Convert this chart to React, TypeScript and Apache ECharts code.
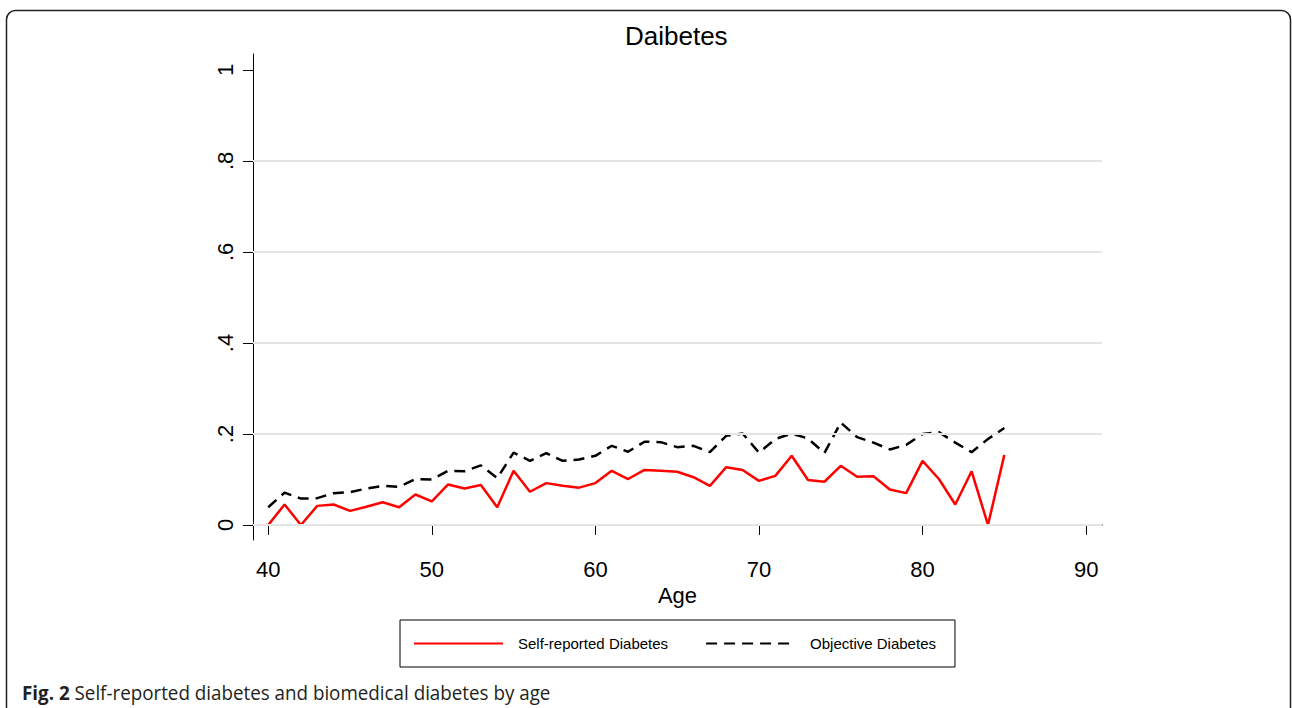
import React, { useEffect, useRef } from "react";
import * as echarts from "echarts";

const ages: number[] = [
  40, 41, 42, 43, 44, 45, 46, 47, 48, 49, 50, 51, 52, 53, 54, 55, 56, 57, 58, 59, 60, 61, 62,
  63, 64, 65, 66, 67, 68, 69, 70, 71, 72, 73, 74, 75, 76, 77, 78, 79, 80, 81, 82, 83, 84, 85,
];

const selfReported: number[] = [
  0, 0.045, 0, 0.042, 0.045, 0.031, 0.04, 0.05, 0.039, 0.067, 0.052,
  0.089, 0.08, 0.088, 0.039, 0.119, 0.073, 0.092, 0.086, 0.082, 0.092, 0.119,
  0.101, 0.121, 0.119, 0.117, 0.105, 0.086, 0.127, 0.121, 0.097, 0.108, 0.152,
  0.099, 0.095, 0.13, 0.106, 0.107, 0.078, 0.07, 0.141, 0.101, 0.045, 0.118, 0, 0.154,
];

const objective: number[] = [
  0.039, 0.071, 0.058, 0.059, 0.07, 0.072, 0.08, 0.086, 0.084, 0.101, 0.1,
  0.119, 0.118, 0.131, 0.103, 0.159, 0.141, 0.158, 0.141, 0.144, 0.152, 0.174,
  0.161, 0.183, 0.182, 0.171, 0.174, 0.16, 0.196, 0.201, 0.159, 0.189, 0.201,
  0.19, 0.158, 0.225, 0.193, 0.181, 0.166, 0.176, 0.2, 0.204, 0.181, 0.16, 0.189, 0.213,
];

const xTicks: number[] = [40, 50, 60, 70, 80, 90];
const yTicks: number[] = [0, 0.2, 0.4, 0.6, 0.8, 1];
const yTickLabels: string[] = ["0", ".2", ".4", ".6", ".8", "1"];
const yGridValues: number[] = [0, 0.2, 0.4, 0.6, 0.8];

const seriesNames = ["Self-reported Diabetes", "Objective Diabetes"];
const chartTitle = "Daibetes";
const xAxisName = "Age";
const captionBold = "Fig. 2";
const captionText = " Self-reported diabetes and biomedical diabetes by age";

const FONT = "'Liberation Sans', Arial, sans-serif";

export default function App() {
  const ref = useRef<HTMLDivElement>(null);

  useEffect(() => {
    document.body.style.margin = "0";
    if (!ref.current) return;
    const chart = echarts.init(ref.current, undefined, { renderer: "svg" });

    const selfData = ages.map((a, i) => [a, selfReported[i]]);
    const objData = ages.map((a, i) => [a, objective[i]]);

    const option: any = {
      animation: false,
      backgroundColor: "#ffffff",
      title: {
        text: chartTitle,
        left: 625,
        top: 23,
        padding: 0,
        textStyle: { fontFamily: FONT, fontSize: 26, fontWeight: "normal", color: "#000" },
      },
      grid: { left: 253, top: 54, width: 849, height: 486, containLabel: false },
      legend: {
        data: seriesNames,
        left: 400,
        top: 620,
        padding: [16, 19, 16, 13],
        itemWidth: 89,
        itemHeight: 14,
        itemGap: 37,
        borderColor: "#000",
        borderWidth: 1,
        selectedMode: false,
        itemStyle: { opacity: 0, borderWidth: 0 },
        textStyle: { fontFamily: FONT, fontSize: 15, color: "#000", padding: [0, 0, 0, 10] },
      },
      xAxis: {
        type: "value",
        min: 39.07,
        max: 90.97,
        name: xAxisName,
        nameLocation: "middle",
        nameGap: 37,
        nameTextStyle: { fontFamily: FONT, fontSize: 22, color: "#000" },
        axisLine: { show: true, lineStyle: { color: "#333", width: 1.5 } },
        axisTick: { show: true, length: 10, customValues: xTicks, lineStyle: { color: "#000", width: 1 } },
        axisLabel: {
          customValues: xTicks,
          margin: 18,
          fontFamily: FONT,
          fontSize: 22,
          color: "#000",
        },
        splitLine: { show: false },
      },
      yAxis: {
        type: "value",
        min: -0.033,
        max: 1.035,
        axisLine: { show: true, lineStyle: { color: "#000", width: 1 } },
        axisTick: { show: true, length: 10, customValues: yTicks, lineStyle: { color: "#000", width: 1 } },
        axisLabel: {
          customValues: yTicks,
          rotate: 90,
          margin: 17,
          fontFamily: FONT,
          fontSize: 22,
          color: "#000",
          formatter: (v: number) => {
            const idx = yTicks.findIndex((t) => Math.abs(t - v) < 1e-9);
            return idx >= 0 ? yTickLabels[idx] : "";
          },
        },
        splitLine: { show: false },
      },
      series: [
        {
          name: "grid",
          type: "line",
          data: [],
          silent: true,
          z: 1,
          markLine: {
            silent: true,
            symbol: "none",
            label: { show: false },
            lineStyle: { color: "#e4e4e4", width: 2, type: "solid" },
            data: yGridValues.map((v) => ({ yAxis: v })),
          },
        },
        {
          name: seriesNames[0],
          type: "line",
          data: selfData,
          showSymbol: false,
          symbol: "none",
          z: 3,
          lineStyle: { color: "#ff0000", width: 2.5 },
          itemStyle: { color: "#ff0000" },
        },
        {
          name: seriesNames[1],
          type: "line",
          data: objData,
          showSymbol: false,
          symbol: "none",
          z: 3,
          lineStyle: { color: "#000000", width: 2.5, type: [11, 7] },
          itemStyle: { color: "#000000" },
        },
      ],
      graphic: [
        {
          type: "rect",
          shape: { x: 6.5, y: 10.5, width: 1284, height: 740, r: 9 },
          style: { fill: "none", stroke: "#222", lineWidth: 1.5 },
          silent: true,
          z: -1,
        },
        {
          type: "text",
          x: 22,
          y: 692,
          scaleX: 0.94,
          style: {
            text: "{b|" + captionBold + "}" + captionText,
            fontFamily: "'Open Sans', sans-serif",
            fontSize: 20,
            fill: "#231f20",
            verticalAlign: "middle",
            rich: {
              b: { fontFamily: "'Open Sans', sans-serif", fontSize: 20, fontWeight: "bold", fill: "#231f20" },
            },
          },
        },
      ],
    };

    chart.setOption(option);
    return () => chart.dispose();
  }, []);

  return <div ref={ref} style={{ width: 1292, height: 708 }} />;
}
